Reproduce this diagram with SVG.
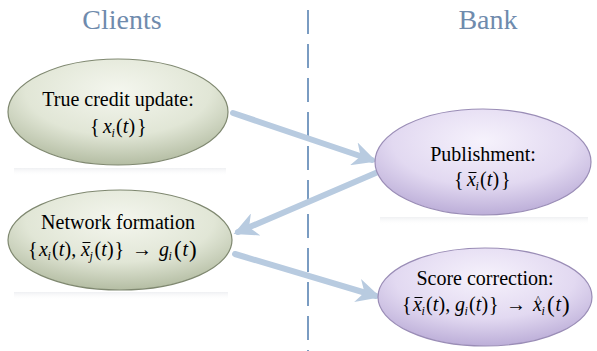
<svg xmlns="http://www.w3.org/2000/svg" width="597" height="351" viewBox="0 0 597 351" font-family="Liberation Serif, DejaVu Serif, serif">
<defs>
<radialGradient id="gG" cx="0.5" cy="0.3" r="0.7">
<stop offset="0" stop-color="#f4f6ee"/>
<stop offset="0.6" stop-color="#e1e6d6"/>
<stop offset="1" stop-color="#b4bda3"/>
</radialGradient>
<radialGradient id="gP" cx="0.5" cy="0.3" r="0.7">
<stop offset="0" stop-color="#f6f2fc"/>
<stop offset="0.6" stop-color="#e2d9f1"/>
<stop offset="1" stop-color="#bcaed8"/>
</radialGradient>
<linearGradient id="refl" x1="0" y1="0" x2="0" y2="1">
<stop offset="0" stop-color="#e4e6ea" stop-opacity="0.6"/>
<stop offset="1" stop-color="#ffffff" stop-opacity="0"/>
</linearGradient>
<marker id="ah" viewBox="0 0 10 10" refX="8" refY="5" markerWidth="4" markerHeight="4" orient="auto" markerUnits="strokeWidth">
<path d="M0,0 L10,5 L0,10 L3,5 z" fill="#b8cbe0"/>
</marker>
</defs>
<rect width="597" height="351" fill="#ffffff"/>
<text x="122" y="29" font-family="Liberation Serif, DejaVu Serif, serif" font-size="28" fill="#6f8bad" text-anchor="middle">Clients</text>
<text x="488" y="29" font-family="Liberation Serif, DejaVu Serif, serif" font-size="28" fill="#6f8bad" text-anchor="middle">Bank</text>
<line x1="308" y1="10" x2="308" y2="351" stroke="#7a9cc2" stroke-width="2" stroke-dasharray="24,10"/>
<rect x="14" y="168" width="212" height="8" fill="url(#refl)"/>
<rect x="380" y="217" width="208" height="8" fill="url(#refl)"/>
<rect x="14" y="292" width="214" height="8" fill="url(#refl)"/>
<g id="connectors" stroke="#b8cbe0" stroke-width="6" fill="none" stroke-linecap="round" marker-end="url(#ah)">
<line x1="233" y1="113" x2="372" y2="160"/>
<line x1="378" y1="172" x2="238" y2="232"/>
<line x1="235" y1="254" x2="376" y2="296"/>
</g>
<g id="n1">
<ellipse cx="118" cy="112" rx="110" ry="53" fill="url(#gG)" stroke="#7f8870" stroke-width="1.2"/>
<text x="118" y="106" font-family="Liberation Serif, DejaVu Serif, serif" font-size="20" text-anchor="middle">True credit update:</text>
<text y="133" font-family="Liberation Serif, DejaVu Serif, serif" font-size="20"><tspan x="90">{</tspan><tspan x="103" font-style="italic">x</tspan><tspan x="111.5" y="137" font-size="12" font-style="italic">i</tspan><tspan x="116" y="133">(</tspan><tspan x="122.7" font-style="italic">t</tspan><tspan x="128.5">)</tspan><tspan x="137">}</tspan></text>
</g>
<g id="n2">
<ellipse cx="483" cy="162" rx="108" ry="53" fill="url(#gP)" stroke="#9a8db6" stroke-width="1.2"/>
<text x="483" y="161" font-family="Liberation Serif, DejaVu Serif, serif" font-size="20" text-anchor="middle">Publishment:</text>
<text y="186" font-family="Liberation Serif, DejaVu Serif, serif" font-size="20"><tspan x="454">{</tspan><tspan x="467" font-style="italic">x</tspan><tspan x="475.5" y="190" font-size="12" font-style="italic">i</tspan><tspan x="480" y="186">(</tspan><tspan x="486.7" font-style="italic">t</tspan><tspan x="492.5">)</tspan><tspan x="501">}</tspan></text>
<line x1="468.5" y1="172.5" x2="476.5" y2="172.5" stroke="#000" stroke-width="1"/>
</g>
<g id="n3">
<ellipse cx="120" cy="240" rx="112" ry="50" fill="url(#gG)" stroke="#7f8870" stroke-width="1.2"/>
<text x="118" y="229" font-family="Liberation Serif, DejaVu Serif, serif" font-size="20" text-anchor="middle">Network formation</text>
<text y="256" font-family="Liberation Serif, DejaVu Serif, serif" font-size="20"><tspan x="28">{</tspan><tspan x="39" font-style="italic">x</tspan><tspan x="47.5" y="260" font-size="12" font-style="italic">i</tspan><tspan x="52" y="256">(</tspan><tspan x="58.7" font-style="italic">t</tspan><tspan x="64.5">)</tspan><tspan x="71.2">,</tspan><tspan x="81" font-style="italic">x</tspan><tspan x="89.5" y="260" font-size="12" font-style="italic">j</tspan><tspan x="94.5" y="256">(</tspan><tspan x="101.2" font-style="italic">t</tspan><tspan x="107">)</tspan><tspan x="114.5">}</tspan><tspan x="132">&#8594;</tspan><tspan x="159" font-style="italic">g</tspan><tspan x="168.5" y="260" font-size="12" font-style="italic">i</tspan><tspan x="174" y="257" font-size="23">(</tspan><tspan x="182.5" y="256" font-style="italic">t</tspan><tspan x="189" y="257" font-size="23">)</tspan></text>
<line x1="82.5" y1="242.5" x2="90.5" y2="242.5" stroke="#000" stroke-width="1"/>
</g>
<g id="n4">
<ellipse cx="485" cy="297" rx="107" ry="49" fill="url(#gP)" stroke="#9a8db6" stroke-width="1.2"/>
<text x="485" y="285" font-family="Liberation Serif, DejaVu Serif, serif" font-size="20" text-anchor="middle">Score correction:</text>
<text y="311" font-family="Liberation Serif, DejaVu Serif, serif" font-size="20"><tspan x="402">{</tspan><tspan x="413" font-style="italic">x</tspan><tspan x="421.5" y="315" font-size="12" font-style="italic">i</tspan><tspan x="426" y="311">(</tspan><tspan x="432.7" font-style="italic">t</tspan><tspan x="438.5">)</tspan><tspan x="445.2">,</tspan><tspan x="455" font-style="italic">g</tspan><tspan x="464.5" y="315" font-size="12" font-style="italic">i</tspan><tspan x="469" y="311">(</tspan><tspan x="475.7" font-style="italic">t</tspan><tspan x="481.5">)</tspan><tspan x="489">}</tspan><tspan x="506">&#8594;</tspan><tspan x="533" font-style="italic">x</tspan><tspan x="535.5" y="303" font-size="11">^</tspan><tspan x="541.5" y="315" font-size="12" font-style="italic">i</tspan><tspan x="547" y="312" font-size="23">(</tspan><tspan x="555.5" y="311" font-style="italic">t</tspan><tspan x="562" y="312" font-size="23">)</tspan></text>
<line x1="414.5" y1="297.5" x2="422.5" y2="297.5" stroke="#000" stroke-width="1"/>
</g>
</svg>
